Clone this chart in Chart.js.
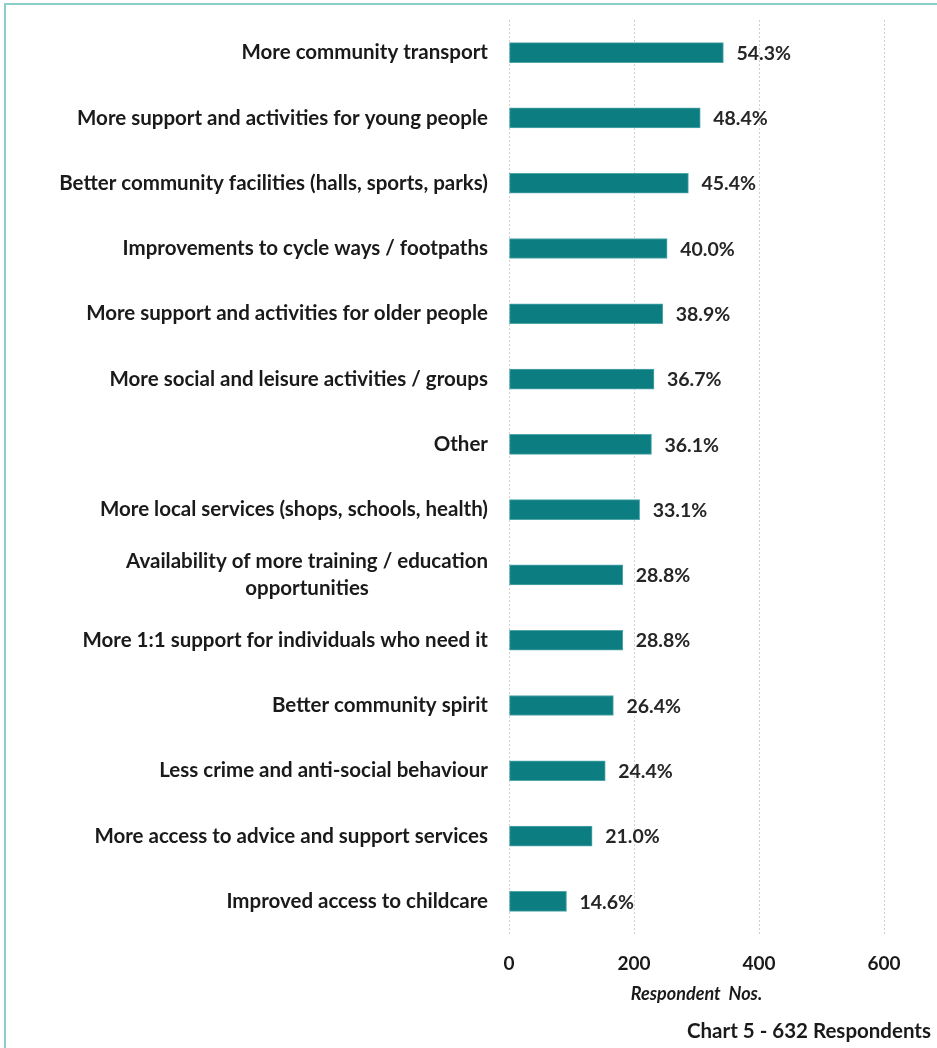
<!DOCTYPE html>
<html>
<head>
<meta charset="utf-8">
<script src="https://cdn.jsdelivr.net/npm/chart.js@4.4.1/dist/chart.umd.min.js"></script>
<style>
  html, body { margin: 0; padding: 0; background: #fff; overflow: hidden; }
  #frame {
    position: absolute; left: 4px; top: 3px; width: 1000px; height: 1100px;
    border-top: 2px solid #8ccfca; border-left: 2px solid #8ccfca;
  }
  #wrap { position: absolute; left: 0; top: 0; width: 937px; height: 1048px; }
</style>
</head>
<body>
<div id="frame"></div>
<div id="wrap"><canvas id="myChart"></canvas></div>
<script>
const categories = [
    'More community transport',
    'More support and activities for young people',
    'Better community facilities (halls, sports, parks)',
    'Improvements to cycle ways / footpaths',
    'More support and activities for older people',
    'More social and leisure activities / groups',
    'Other',
    'More local services (shops, schools, health)',
    ['Availability of more training / education', 'opportunities'],
    'More 1:1 support for individuals who need it',
    'Better community spirit',
    'Less crime and anti-social behaviour',
    'More access to advice and support services',
    'Improved access to childcare'
];
// respondent numbers (of 632)
const respondents = [343, 306, 287, 253, 246, 232, 228, 209, 182, 182, 167, 154, 133, 92];
const percentLabels = ['54.3%', '48.4%', '45.4%', '40.0%', '38.9%', '36.7%', '36.1%', '33.1%', '28.8%', '28.8%', '26.4%', '24.4%', '21.0%', '14.6%'];
const xTicks = [0, 200, 400, 600];

const FONT = 'Lato, "Liberation Sans", sans-serif';

const labelsPlugin = {
    id: 'labelsPlugin',
    afterDraw(chart) {
        const ctx = chart.ctx;
        const area = chart.chartArea;
        const yScale = chart.scales.y;
        const meta = chart.getDatasetMeta(0);
        ctx.save();
        // category labels
        ctx.font = 'bold 20.5px ' + FONT;
        ctx.fillStyle = '#1a1a1a';
        ctx.textBaseline = 'middle';
        categories.forEach((lab, i) => {
            const y = yScale.getPixelForValue(i);
            const xr = area.left - 21;
            if (Array.isArray(lab)) {
                const lh = 27;
                const w = Math.max(...lab.map(l => ctx.measureText(l).width));
                ctx.textAlign = 'center';
                lab.forEach((l, j) => {
                    ctx.fillText(l, xr - w / 2, y + (j - (lab.length - 1) / 2) * lh);
                });
            } else {
                ctx.textAlign = 'right';
                ctx.fillText(lab, xr, y);
            }
        });
        // value labels
        ctx.font = 'bold 19.5px ' + FONT;
        ctx.fillStyle = '#262626';
        ctx.textAlign = 'left';
        meta.data.forEach((bar, i) => {
            ctx.fillText(percentLabels[i], bar.x + 13, bar.y + 1);
        });
        // footer note
        ctx.font = 'bold 20.5px ' + FONT;
        ctx.fillStyle = '#1a1a1a';
        ctx.textAlign = 'right';
        ctx.fillText('Chart 5 - 632 Respondents', 931, 1031);
        ctx.restore();
    }
};

Chart.register(labelsPlugin);

const data = {
    labels: categories.map(c => Array.isArray(c) ? c.join(' ') : c),
    datasets: [{
        data: respondents,
        backgroundColor: '#0c7d80',
        borderColor: '#4fa6aa',
        borderWidth: 1,
        borderSkipped: false,
        barThickness: 20
    }]
};

const config = {
    type: 'bar',
    data: data,
    options: {
        indexAxis: 'y',
        responsive: true,
        maintainAspectRatio: false,
        animation: false,
        layout: { padding: { top: 20, right: 53, bottom: 0, left: 0 } },
        plugins: {
            legend: { display: false },
            tooltip: { enabled: false }
        },
        scales: {
            x: {
                min: 0,
                max: 600,
                afterBuildTicks: (scale) => { scale.ticks = xTicks.map(v => ({ value: v })); },
                afterFit: (scale) => { scale.height = 114; },
                border: { display: false, dash: [2, 2] },
                grid: {
                    color: '#cfcfcf',
                    lineWidth: 1,
                    drawTicks: false
                },
                ticks: {
                    padding: 18,
                    color: '#1a1a1a',
                    font: { family: FONT, size: 19, weight: 'bold' }
                },
                title: {
                    display: true,
                    text: 'Respondent  Nos.',
                    color: '#1a1a1a',
                    padding: { top: 4, bottom: 43 },
                    font: { family: FONT, size: 18, weight: 'bold', style: 'italic' }
                }
            },
            y: {
                afterFit: (scale) => { scale.width = 509; },
                border: { display: false },
                grid: { display: false },
                ticks: { display: false }
            }
        }
    }
};

const myChart = new Chart(document.getElementById('myChart').getContext('2d'), config);
</script>
</body>
</html>
